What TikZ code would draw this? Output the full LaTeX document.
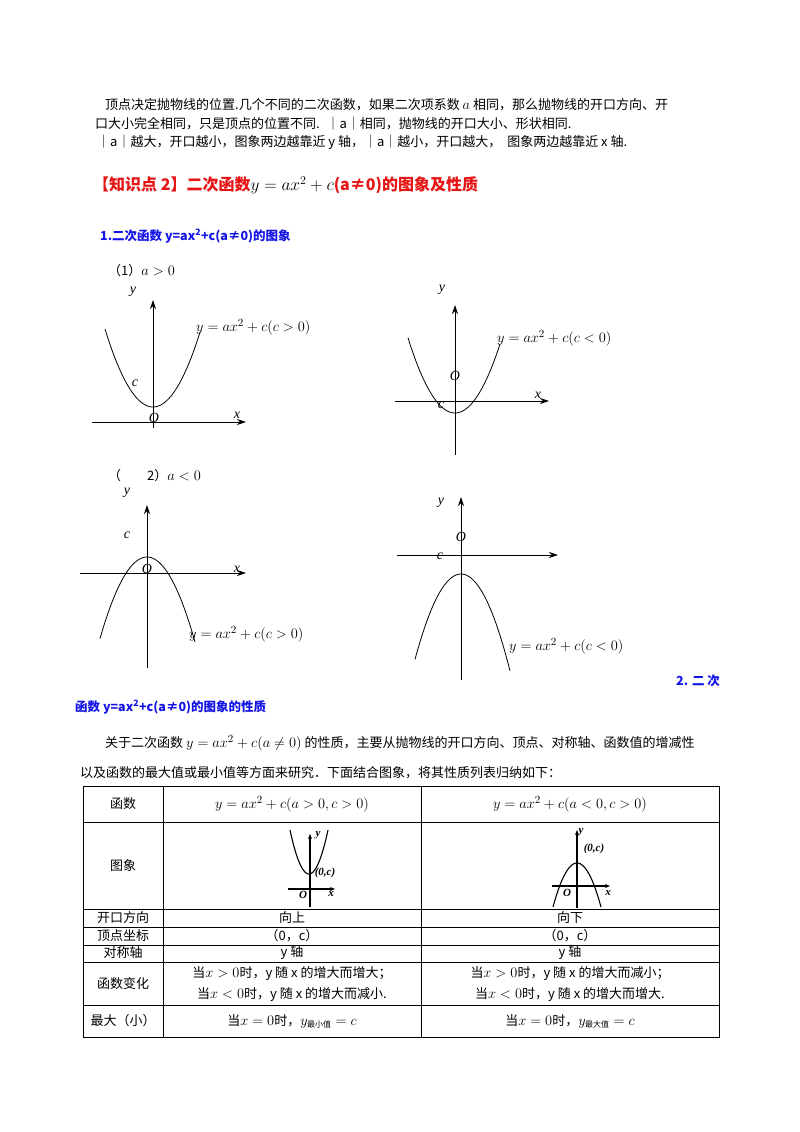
\documentclass[tikz,border=0pt]{standalone}
\usepackage{fontspec}
\setmainfont{Liberation Serif}
\newfontfamily\cjk{Noto Sans CJK SC}
\usetikzlibrary{arrows.meta}
\definecolor{hdred}{RGB}{230,20,20}
\definecolor{hdblue}{RGB}{20,20,230}
\newcommand{\mth}[1]{{\fontsize{15}{16}\selectfont$#1$}}
\tikzset{
  txt/.style={anchor=west,inner sep=0pt,font=\cjk\fontsize{13}{15}\selectfont},
  ax/.style={line width=0.9pt,-{Stealth[length=9pt,width=6pt]}},
  curve/.style={line width=0.8pt},
  lab/.style={inner sep=0pt,font=\itshape\fontsize{14}{15}\selectfont},
  eqn/.style={anchor=west,inner sep=0pt,font=\fontsize{15.5}{16}\selectfont},
  cell/.style={inner sep=0pt,font=\cjk\fontsize{13}{15}\selectfont,align=center},
  grid/.style={line width=0.6pt},
  sax/.style={line width=1.2pt,-{Stealth[length=5pt,width=4pt]}},
  slab/.style={inner sep=0pt,font=\bfseries\itshape\fontsize{11}{12}\selectfont}
}
\begin{document}
\begin{tikzpicture}[x=1pt,y=-1pt]
\useasboundingbox (0,0) rectangle (800,1132);
\fill[white] (0,0) rectangle (800,1132);
% top paragraph
\node[txt] (p1) at (105,105) {顶点决定抛物线的位置.几个不同的二次函数，如果二次项系数 \mth{a} 相同，那么抛物线的开口方向、开};
\node[txt] (p2) at (95,124) {口大小完全相同，只是顶点的位置不同. \ ｜a｜相同，抛物线的开口大小、形状相同.};
\node[txt] (p3) at (97,142) {｜a｜越大，开口越小，图象两边越靠近 y 轴，｜a｜越小，开口越大， \ 图象两边越靠近 x 轴.};
\node[txt,text=hdred,font=\cjk\bfseries\fontsize{16}{18}\selectfont] (h2) at (93,185) {【知识点 2】二次函数{\color{black}\normalfont\fontsize{17}{18}\selectfont$y=ax^2+c$}(a≠0)的图象及性质};
\node[txt,text=hdblue,font=\cjk\bfseries\fontsize{12.5}{14}\selectfont] (h3) at (100,236) {1.二次函数 y=ax\textsuperscript{2}+c(a≠0)的图象};
\node[txt] (c1) at (108,271) {（1）\mth{a>0}};
% graph 1
\draw[ax] (153,428) -- (153,300) coordinate (g1y);
\draw[ax] (92,422) -- (246,422) coordinate (g1x);
\draw[curve] plot[domain=105:200,samples=60] (\x,{407-78*((\x-153)/48)^2});
\node[lab] (l1y) at (133,292) {y};
\node[lab] (l1c) at (135,383) {c};
\node[lab] (l1o) at (154,418) {O};
\node[lab] (l1x) at (237,415) {x};
\node[eqn] (e1) at (196,327) {$y=ax^2+c\bigl(c>0\bigr)$};
% graph 2
\draw[ax] (455,455) -- (455,305);
\draw[ax] (395,401) -- (549,401);
\draw[curve] plot[domain=408:500,samples=60] (\x,{413-72*((\x-455)/46)^2});
\node[lab] (l2y) at (442,290) {y};
\node[lab] (l2o) at (455,376) {O};
\node[lab] (l2c) at (441,405) {c};
\node[lab] (l2x) at (538,395) {x};
\node[eqn] (e2) at (497,338) {$y=ax^2+c\bigl(c<0\bigr)$};
% (2)
\node[txt] (c2) at (108,476) {（\qquad 2）\mth{a<0}};
% graph 3
\draw[ax] (147,668) -- (147,505);
\draw[ax] (80,573) -- (246,573);
\draw[curve] plot[domain=100:195,samples=60] (\x,{557+85*((\x-147)/48)^2});
\node[lab] (l3y) at (127,493) {y};
\node[lab] (l3c) at (127,535) {c};
\node[lab] (l3o) at (147,569) {O};
\node[lab] (l3x) at (237,569) {x};
\node[eqn] (e3) at (189,634) {$y=ax^2+c\bigl(c>0\bigr)$};
% graph 4
\draw[ax] (461,680) -- (461,497);
\draw[ax] (397,555) -- (558,555);
\draw[curve] plot[domain=415:510,samples=60] (\x,{574+93*((\x-461)/48)^2});
\node[lab] (l4y) at (441,503) {y};
\node[lab] (l4o) at (461,537) {O};
\node[lab] (l4c) at (440,556) {c};
\node[eqn] (e4) at (509,646) {$y=ax^2+c\bigl(c<0\bigr)$};
% section 2 heading
\node[txt,text=hdblue,font=\cjk\bfseries\fontsize{12.5}{14}\selectfont] (s2a) at (676,681) {2. 二 次};
\node[txt,text=hdblue,font=\cjk\bfseries\fontsize{12.5}{14}\selectfont] (s2b) at (75,707) {函数 y=ax\textsuperscript{2}+c(a≠0)的图象的性质};
\node[txt] (q1) at (105,743) {关于二次函数 \mth{y=ax^2+c(a\neq 0)} 的性质，主要从抛物线的开口方向、顶点、对称轴、函数值的增减性};
\node[txt] (q2) at (80,773) {以及函数的最大值或最小值等方面来研究．下面结合图象，将其性质列表归纳如下：};
% table
\draw[grid] (83,786) rectangle (719,1037);
\foreach \yy in {822,909,927,945,962,1005} \draw[grid] (83,\yy) -- (719,\yy);
\draw[grid] (163,786) -- (163,1037);
\draw[grid] (421,786) -- (421,1037);
\node[cell] (r1a) at (123,804) {函数};
\node[cell,font=\fontsize{15.5}{16}\selectfont] (r1b) at (292,804) {$y=ax^2+c(a>0,c>0)$};
\node[cell,font=\fontsize{15.5}{16}\selectfont] (r1c) at (570,804) {$y=ax^2+c(a<0,c>0)$};
\node[cell] (r2a) at (123,866) {图象};
\node[cell] (r3a) at (123,918) {开口方向};
\node[cell] (r3b) at (292,918) {向上};
\node[cell] (r3c) at (570,918) {向下};
\node[cell] (r4a) at (123,936) {顶点坐标};
\node[cell] (r4b) at (292,936) {（0，c）};
\node[cell] (r4c) at (570,936) {（0，c）};
\node[cell] (r5a) at (123,953) {对称轴};
\node[cell] (r5b) at (292,953) {y 轴};
\node[cell] (r5c) at (570,953) {y 轴};
\node[cell] (r6a) at (123,984) {函数变化};
\node[cell,font=\cjk\fontsize{13}{21}\selectfont] (r6b) at (292,984) {当\mth{x>0}时，y 随 x 的增大而增大；\\当\mth{x<0}时，y 随 x 的增大而减小.};
\node[cell,font=\cjk\fontsize{13}{21}\selectfont] (r6c) at (570,984) {当\mth{x>0}时，y 随 x 的增大而减小；\\当\mth{x<0}时，y 随 x 的增大而增大.};
\node[cell] (r7a) at (123,1021) {最大（小）};
\node[cell] (r7b) at (292,1021) {当\mth{x=0}时，\mth{y_{\hbox{\cjk\fontsize{8}{9}\selectfont 最小值}}=c}};
\node[cell] (r7c) at (570,1021) {当\mth{x=0}时，\mth{y_{\hbox{\cjk\fontsize{8}{9}\selectfont 最大值}}=c}};
% small graph left
\draw[sax] (310,907) -- (310,834);
\draw[sax] (288,889) -- (335,889);
\draw[line width=1.1pt] plot[domain=290:328,samples=40] (\x,{874-44*((\x-309)/19)^2});
\node[slab] (s1y) at (318,835) {y};
\node[slab] (s1c) at (325,873) {(0,c)};
\node[slab] (s1o) at (303,895) {O};
\node[slab] (s1x) at (331,894) {x};
% small graph right
\draw[sax] (577,908) -- (577,830);
\draw[sax] (552,886) -- (610,886);
\draw[line width=1.1pt] plot[domain=553:601,samples=40] (\x,{863+44*((\x-577)/24)^2});
\node[slab] (s2y) at (581,832) {y};
\node[slab] (s2c) at (594,849) {(0,c)};
\node[slab] (s2o) at (567,893) {O};
\node[slab] (s2x) at (608,893) {x};
\end{tikzpicture}
\end{document}
